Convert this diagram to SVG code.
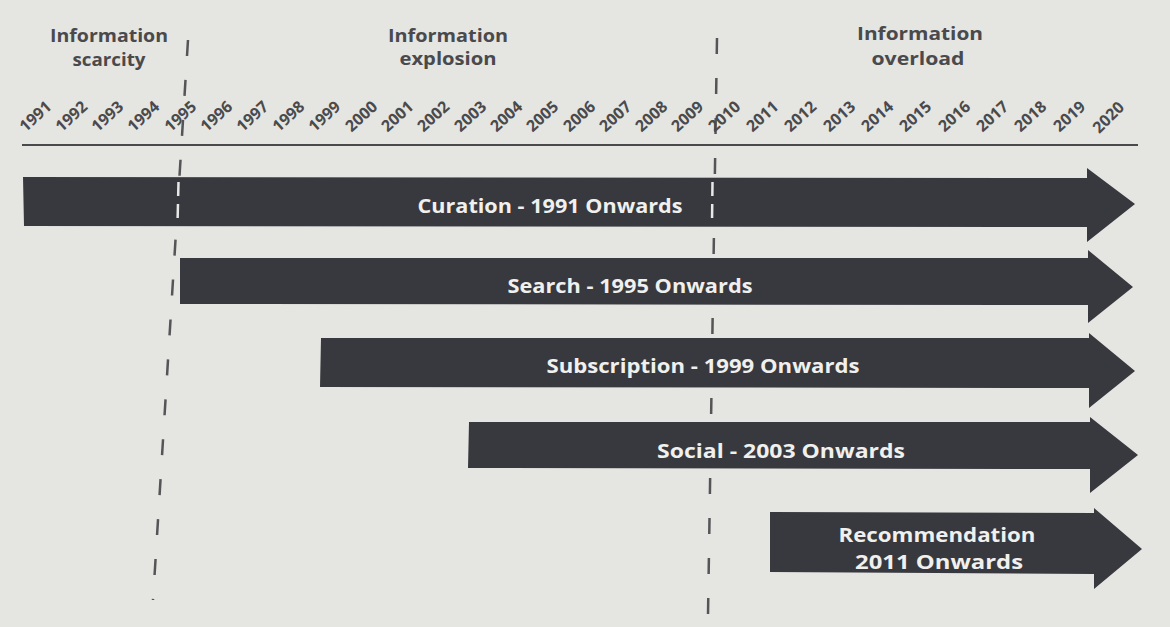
<svg xmlns="http://www.w3.org/2000/svg" width="1170" height="627" viewBox="0 0 1170 627">
<style>
.hdr{font-family:"Open Sans","Liberation Sans",sans-serif;font-weight:700;font-size:18px;fill:#4a4a4c;text-anchor:middle}
.yr{font-family:"Open Sans","Liberation Sans",sans-serif;font-weight:700;font-size:16px;fill:#4a4a4c;text-anchor:middle}
.lbl{font-family:"Open Sans","Liberation Sans",sans-serif;font-weight:700;font-size:20px;fill:#f0f0ee;text-anchor:middle}
.bar{fill:#38393e}
.div{stroke:#555558;stroke-width:2.5;stroke-dasharray:16 24;fill:none}
.divw{stroke:#e8e8e6;stroke-width:2.5;stroke-dasharray:14 8;fill:none}
</style>
<rect x="0" y="0" width="1170" height="627" fill="#e5e5e2"/>

<g id="headers">
<text class="hdr" x="109" y="42" textLength="118" lengthAdjust="spacingAndGlyphs">Information</text>
<text class="hdr" x="109" y="66" textLength="73" lengthAdjust="spacingAndGlyphs">scarcity</text>
<text class="hdr" x="448" y="42" textLength="120" lengthAdjust="spacingAndGlyphs">Information</text>
<text class="hdr" x="448" y="65" textLength="97" lengthAdjust="spacingAndGlyphs">explosion</text>
<text class="hdr" x="920" y="40" textLength="126" lengthAdjust="spacingAndGlyphs">Information</text>
<text class="hdr" x="918" y="65" textLength="93" lengthAdjust="spacingAndGlyphs">overload</text>
</g>

<g id="dividers">
<line class="div" x1="188" y1="40" x2="153" y2="600"/>
<line class="div" x1="717" y1="38" x2="708" y2="615"/>
</g>

<g id="axis">
<line x1="22" y1="145" x2="1138" y2="145" stroke="#4a4a4c" stroke-width="2"/>
<g id="years">
<text class="yr" x="35" y="122" transform="rotate(-42 35 116)">1991</text>
<text class="yr" x="71" y="122" transform="rotate(-42 71 116)">1992</text>
<text class="yr" x="107" y="122" transform="rotate(-42 107 116)">1993</text>
<text class="yr" x="143" y="122" transform="rotate(-42 143 116)">1994</text>
<text class="yr" x="180" y="122" transform="rotate(-42 180 116)">1995</text>
<text class="yr" x="216" y="122" transform="rotate(-42 216 116)">1996</text>
<text class="yr" x="252" y="122" transform="rotate(-42 252 116)">1997</text>
<text class="yr" x="288" y="122" transform="rotate(-42 288 116)">1998</text>
<text class="yr" x="324" y="122" transform="rotate(-42 324 116)">1999</text>
<text class="yr" x="361" y="122" transform="rotate(-42 361 116)">2000</text>
<text class="yr" x="397" y="122" transform="rotate(-42 397 116)">2001</text>
<text class="yr" x="433" y="122" transform="rotate(-42 433 116)">2002</text>
<text class="yr" x="470" y="122" transform="rotate(-42 470 116)">2003</text>
<text class="yr" x="506" y="122" transform="rotate(-42 506 116)">2004</text>
<text class="yr" x="542" y="122" transform="rotate(-42 542 116)">2005</text>
<text class="yr" x="579" y="122" transform="rotate(-42 579 116)">2006</text>
<text class="yr" x="615" y="122" transform="rotate(-42 615 116)">2007</text>
<text class="yr" x="651" y="122" transform="rotate(-42 651 116)">2008</text>
<text class="yr" x="687" y="122" transform="rotate(-42 687 116)">2009</text>
<text class="yr" x="724" y="122" transform="rotate(-42 724 116)">2010</text>
<text class="yr" x="762" y="122" transform="rotate(-42 762 116)">2011</text>
<text class="yr" x="800" y="122" transform="rotate(-42 800 116)">2012</text>
<text class="yr" x="839" y="122" transform="rotate(-42 839 116)">2013</text>
<text class="yr" x="877" y="122" transform="rotate(-42 877 116)">2014</text>
<text class="yr" x="915" y="122" transform="rotate(-42 915 116)">2015</text>
<text class="yr" x="954" y="122" transform="rotate(-42 954 116)">2016</text>
<text class="yr" x="992" y="122" transform="rotate(-42 992 116)">2017</text>
<text class="yr" x="1030" y="122" transform="rotate(-42 1030 116)">2018</text>
<text class="yr" x="1069" y="122" transform="rotate(-42 1069 116)">2019</text>
<text class="yr" x="1108" y="123" transform="rotate(-45 1108 117)">2020</text>
</g>
</g>

<g id="connectors"></g>

<g id="curation">
<polygon class="bar" points="23,177 1087,178 1087,168 1135,204 1087,242 1087,227 24,226"/>
<line class="divw" x1="178.5" y1="182" x2="177.5" y2="224"/>
<line class="divw" x1="712.5" y1="182" x2="712" y2="224"/>
<text class="lbl" x="550" y="213" textLength="265" lengthAdjust="spacingAndGlyphs">Curation - 1991 Onwards</text>
</g>

<g id="search">
<polygon class="bar" points="180,258 1088,258 1088,250 1133,287 1088,323 1088,305 180,304"/>
<text class="lbl" x="630" y="293" textLength="245" lengthAdjust="spacingAndGlyphs">Search - 1995 Onwards</text>
</g>

<g id="subscription">
<polygon class="bar" points="321,338 1089,338 1089,333 1135,371 1089,408 1089,388 320,387"/>
<text class="lbl" x="703" y="373" textLength="313" lengthAdjust="spacingAndGlyphs">Subscription - 1999 Onwards</text>
</g>

<g id="social">
<polygon class="bar" points="469,422 1090,422 1090,417 1138,455 1090,493 1090,469 468,468"/>
<text class="lbl" x="781" y="458" textLength="248" lengthAdjust="spacingAndGlyphs">Social - 2003 Onwards</text>
</g>

<g id="recommendation">
<polygon class="bar" points="770,512 1094,513 1094,508 1142,549 1094,589 1094,574 770,572"/>
<text class="lbl" x="937" y="542" textLength="197" lengthAdjust="spacingAndGlyphs">Recommendation</text>
<text class="lbl" x="939" y="569" textLength="168" lengthAdjust="spacingAndGlyphs">2011 Onwards</text>
</g>
</svg>
